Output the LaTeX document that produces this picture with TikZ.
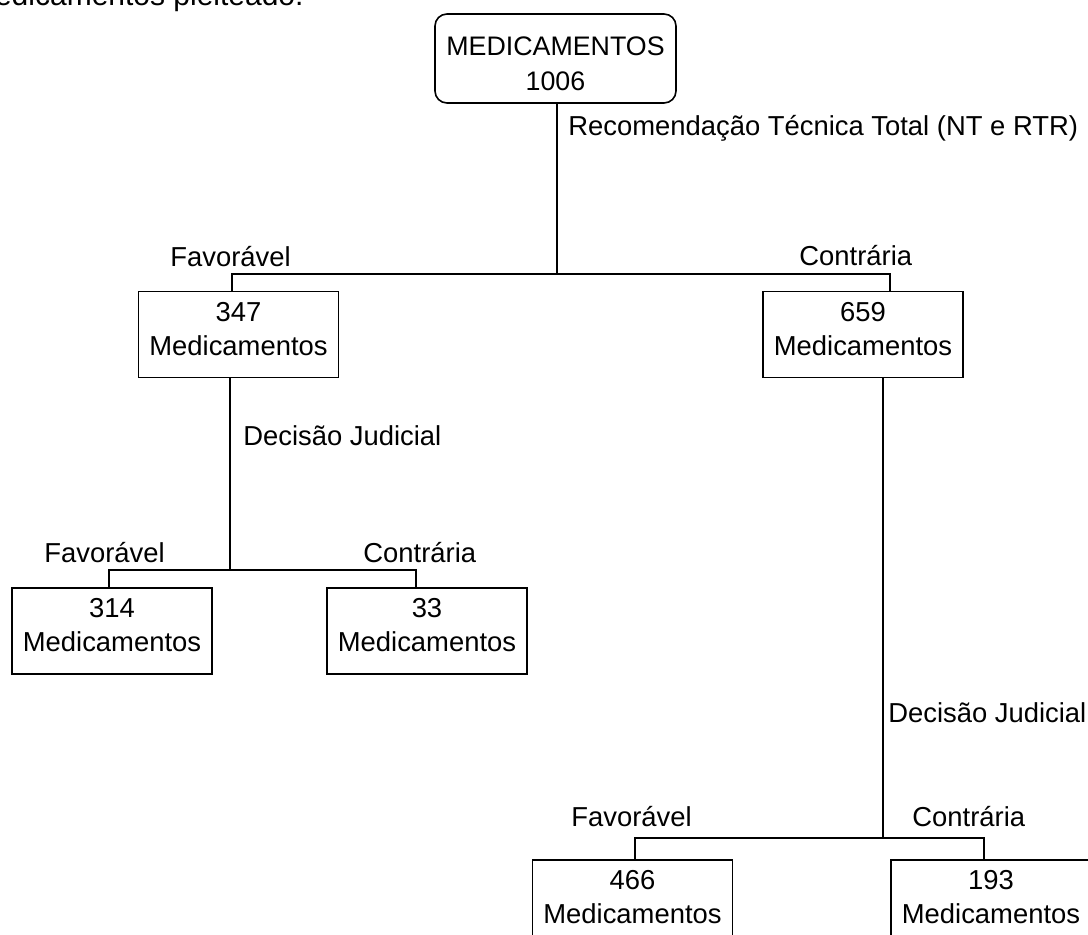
\documentclass[tikz,border=0pt]{standalone}
\usepackage{fontspec}
\setmainfont{Liberation Sans}
\begin{document}
\begin{tikzpicture}[x=0.5pt,y=-0.5pt,
	caixa/.style={draw,line width=0.8pt,minimum width=100pt,minimum height=43pt,inner sep=0pt,align=center,font=\fontsize{13.7}{17}\selectfont},
	rotulo/.style={inner sep=0pt,font=\fontsize{13.7}{16}\selectfont}]
		\useasboundingbox (0,0) rectangle (1088,934);
		\node[anchor=base east,inner sep=0pt,font=\fontsize{15}{18}\selectfont] (topo) at (304,5) {medicamentos pleiteado.};
		\node[caixa,rounded corners=6pt,minimum width=120.5pt,minimum height=44.5pt,font=\fontsize{13.4}{17.5}\selectfont] (raiz) at (555.5,58.5) {\rule{0pt}{14.3pt}MEDICAMENTOS\\1006};
		\node[caixa] (m347) at (238.5,334.5) {347\\Medicamentos\rule[-6pt]{0pt}{6pt}};
		\node[caixa] (m659) at (863,334.5) {659\\Medicamentos\rule[-6pt]{0pt}{6pt}};
		\node[caixa] (m314) at (112,631) {314\\Medicamentos\rule[-6pt]{0pt}{6pt}};
		\node[caixa] (m33) at (427,631) {33\\Medicamentos\rule[-6pt]{0pt}{6pt}};
		\node[caixa] (m466) at (632.5,903) {466\\Medicamentos\rule[-6pt]{0pt}{6pt}};
		\node[caixa] (m193) at (991,903) {193\\Medicamentos\rule[-6pt]{0pt}{6pt}};
		\coordinate (j1) at (557,274);
		\coordinate (e1) at (232,274);
		\coordinate (d1) at (890,274);
		\coordinate (j2) at (230,570);
		\coordinate (e2) at (109,570);
		\coordinate (d2) at (416,570);
		\coordinate (j3) at (883,838);
		\coordinate (e3) at (635,838);
		\coordinate (d3) at (984,838);
		\draw[line width=0.8pt] (raiz.south -| j1) -- (j1);
		\draw[line width=0.8pt] (m347.north -| e1) -- (e1) -- (d1) -- (m659.north -| d1);
		\draw[line width=0.8pt] (m347.south -| j2) -- (j2);
		\draw[line width=0.8pt] (m314.north -| e2) -- (e2) -- (d2) -- (m33.north -| d2);
		\draw[line width=0.8pt] (m659.south -| j3) -- (j3);
		\draw[line width=0.8pt] (m466.north -| e3) -- (e3) -- (d3) -- (m193.north -| d3);
		\node[rotulo,anchor=base west] (rec) at (568,135) {Recomendação Técnica Total (NT e RTR)};
		\node[rotulo,anchor=base west] (fav1) at (170,266) {Favorável};
		\node[rotulo,anchor=base west] (con1) at (799,265) {Contrária};
		\node[rotulo,anchor=base west] (dec1) at (243,445) {Decisão Judicial};
		\node[rotulo,anchor=base west] (fav2) at (44,562) {Favorável};
		\node[rotulo,anchor=base west] (con2) at (363,562) {Contrária};
		\node[rotulo,anchor=base west] (dec2) at (888,722) {Decisão Judicial};
		\node[rotulo,anchor=base west] (fav3) at (571,826) {Favorável};
		\node[rotulo,anchor=base west] (con3) at (912,826) {Contrária};
	\end{tikzpicture}
\end{document}
